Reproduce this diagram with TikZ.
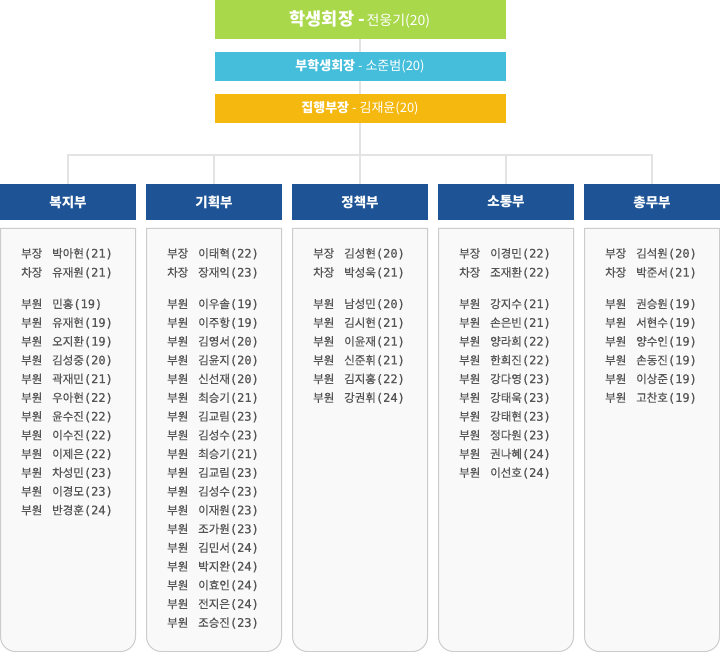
\documentclass[tikz,border=0pt]{standalone}
\usepackage{fontspec}
\setmainfont{Noto Sans CJK KR}
\newfontfamily\memfont[FakeBold=0.5]{Noto Sans CJK KR}
\newfontfamily\agefont[FakeBold=0.5]{DejaVu Sans Mono}
\newcommand\agefnt{\agefont\fontsize{12}{14}\selectfont}
\definecolor{cgreen}{HTML}{A9D84A}
\definecolor{ccyan}{HTML}{44BEDB}
\definecolor{cyellow}{HTML}{F5B80F}
\definecolor{cblue}{HTML}{1E5496}
\definecolor{cline}{HTML}{E3E3E3}
\definecolor{cpanel}{HTML}{F9F9F9}
\definecolor{cborder}{HTML}{CCCCCC}
\definecolor{ctext}{HTML}{555555}
\tikzset{
  topbox/.style={fill=#1, draw=none, minimum width=291pt, minimum height=29pt, inner sep=0pt, text=white},
  deptbox/.style={fill=cblue, draw=none, minimum width=136pt, minimum height=36pt, inner sep=0pt, text=white, font=\bfseries\fontsize{13.5}{16}\selectfont},
  conn/.style={draw=cline, line width=2pt},
  panel/.style={fill=cpanel, draw=cborder, line width=1pt},
  role/.style={anchor=base west, inner sep=0pt, text=ctext, font=\memfont\fontsize{11.5}{14}\selectfont},
}
\newcommand\deptcolumn[4]{%
  \draw[panel] (#1+0.5,228.5) -- (#1+0.5,636.5) .. controls (#1+0.5,644.8) and (#1+7.2,651.5) .. (#1+15.5,651.5) -- (#1+120.5,651.5) .. controls (#1+128.8,651.5) and (#1+135.5,644.8) .. (#1+135.5,636.5) -- (#1+135.5,228.5) -- cycle;
  \foreach \r/\n/\a [count=\i from 0] in {#3}{
    \node[role] (#2l\i) at (#1+21, 257.7+19*\i) {\r};
    \node[role] (#2ln\i) at (#1+52, 257.7+19*\i) {\n{\agefnt(\a)}};
  }
  \foreach \n/\a [count=\i from 0] in {#4}{
    \node[role] (#2m\i) at (#1+21, 308.2+18.75*\i) {부원};
    \node[role] (#2n\i) at (#1+52, 308.2+18.75*\i) {\n{\agefnt(\a)}};
  }
}
\begin{document}
\begin{tikzpicture}[x=1pt,y=-1pt]
\useasboundingbox (0,0) rectangle (720,652);
\fill[white] (0,0) rectangle (720,652);

\node[topbox=cgreen, minimum height=39pt] (pres) at (360,19.5)
  {{\bfseries\fontsize{17.5}{20}\selectfont 학생회장 -}\,{\fontsize{14}{17}\selectfont 전웅기(20)}};
\node[topbox=ccyan] (vp) at (360,66.5)
  {{\bfseries\fontsize{13}{16}\selectfont 부학생회장}{\fontsize{13}{16}\selectfont\ - 소준범(20)}};
\node[topbox=cyellow] (exec) at (360,108.5)
  {{\bfseries\fontsize{13}{16}\selectfont 집행부장}{\fontsize{13}{16}\selectfont\ - 김재윤(20)}};

\node[deptbox] (d1) at (68,202) {복지부};
\node[deptbox] (d2) at (214,202) {기획부};
\node[deptbox] (d3) at (360,202) {정책부};
\node[deptbox] (d4) at (506,202) {소통부};
\node[deptbox] (d5) at (652,202) {총무부};

\coordinate (hub) at (360,155);
\draw[conn] (pres) -- (vp);
\draw[conn] (vp) -- (exec);
\draw[conn] (exec.south) -- (hub);
\foreach \d in {d1,d2,d3,d4,d5}{\draw[conn] (hub) -| (\d.north);}

\deptcolumn{0}{a}{부장/박아현/21, 차장/유재원/21}
  {민홍/19, 유재현/19, 오지환/19, 김성중/20, 곽재민/21, 우아현/22, 윤수진/22, 이수진/22, 이제은/22, 차성민/23, 이경모/23, 반경훈/24}
\deptcolumn{146}{b}{부장/이태혁/22, 차장/장재익/23}
  {이우솔/19, 이주항/19, 김영서/20, 김윤지/20, 신선재/20, 최승기/21, 김교림/23, 김성수/23, 최승기/21, 김교림/23, 김성수/23, 이재원/23, 조가원/23, 김민서/24, 박지완/24, 이효인/24, 전지은/24, 조승진/23}
\deptcolumn{292}{c}{부장/김성현/20, 차장/박성욱/21}
  {남성민/20, 김시현/21, 이윤재/21, 신준휘/21, 김지홍/22, 강권휘/24}
\deptcolumn{438}{d}{부장/이경민/22, 차장/조재환/22}
  {강지수/21, 손은빈/21, 양라희/22, 한희진/22, 강다영/23, 강태욱/23, 강태현/23, 정다원/23, 권나혜/24, 이선호/24}
\deptcolumn{584}{e}{부장/김석원/20, 차장/박준서/21}
  {권승원/19, 서현수/19, 양수인/19, 손동진/19, 이상준/19, 고찬호/19}
\end{tikzpicture}
\end{document}
